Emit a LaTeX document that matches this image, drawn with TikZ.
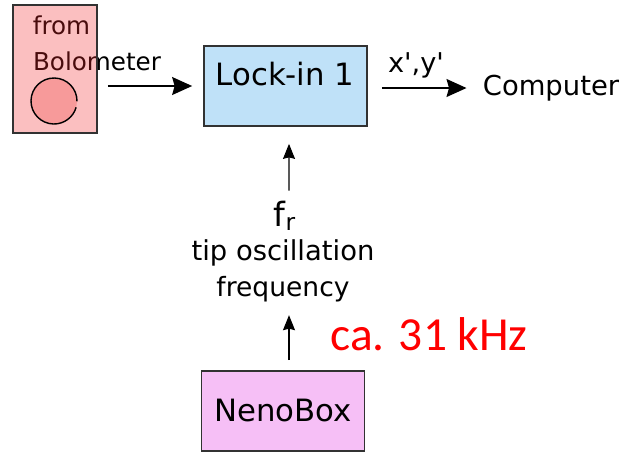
\documentclass[tikz,border=0pt]{standalone}
\usepackage{fontspec}
\setmainfont{DejaVu Sans}
\newfontfamily\carlitofont{Carlito}
\usetikzlibrary{arrows.meta,positioning}
\definecolor{nbpink}{RGB}{246,191,246}
\definecolor{nbblue}{RGB}{191,225,248}
\definecolor{nbbolo}{RGB}{242,42,45}
\definecolor{nbcircle}{RGB}{247,154,154}
\definecolor{nbedge}{RGB}{50,50,50}
\newcommand{\fsz}[1]{\fontsize{#1}{#1}\selectfont}

\begin{document}
\begin{tikzpicture}[
        instrument/.style={draw=nbedge, line width=1pt, minimum width=3.26cm, minimum height=1.6cm, align=center},
        flow/.style={-{Stealth[length=4mm,width=3.6mm,inset=0.5mm]}, line width=0.8pt},
        feed/.style={-{Stealth[length=3mm,width=2.4mm,inset=0.3mm]}, line width=0.6pt},
        caption/.style={inner sep=0pt, align=center}
      ]
      \useasboundingbox (0,0) rectangle (12.56,9.08);

      % text first, the box is laid over it
      \node[caption, font=\fsz{14}] (fromtxt) at (1.23,8.58) {from};
      \node[caption, font=\fsz{14}] (bolotxt) at (1.94,7.86) {Bolometer};
      \node[draw=nbedge, line width=1pt, fill=nbbolo, fill opacity=0.3, draw opacity=1,
        minimum width=1.68cm, minimum height=2.56cm] (bolo) at (1.10,7.70) {};
      \fill[nbcircle] (1.08,7.06) circle (0.46);
      \draw[line width=0.8pt] (1.08,7.06) ++(-1:0.46) arc (-1:344:0.46);

      \node[instrument, fill=nbblue] (lockin) at (5.71,7.36) {};
      \node[caption, font=\fsz{17.5}] (locktxt) at (5.70,7.60) {Lock-in 1};
      \node[instrument, fill=nbpink, font=\fsz{17.5}] (nenobox) at (5.66,0.86) {NenoBox};

      \node[caption, font=\fsz{15.6}] (computer) at (11.02,7.32) {Computer};
      \node[caption, font=\fsz{15.5}] (xy) at (8.32,7.77) {x\textquotesingle,y\textquotesingle};
      \node[caption, font=\fsz{19}] (fr) at (5.70,4.76) {f\textsubscript{r}};
      \node[caption, font=\fsz{15.6}] (tiptxt) at (5.66,4.02) {tip oscillation};
      \node[caption, font=\fsz{15.1}] (freqtxt) at (5.66,3.30) {frequency};
      \node[caption, font=\carlitofont\fsz{27}, text=red] (khz) at (8.58,2.40) {ca. 31 kHz};

      \draw[flow, shorten <=0.2cm, shorten >=0.22cm] (bolo.east |- lockin.west) -- (lockin.west);
      \draw[flow, shorten <=0.28cm, shorten >=0.32cm] (lockin.east |- computer.west) -- (computer.west);
      \draw[feed, shorten <=0.2cm, shorten >=0.26cm] ([xshift=0.12cm]nenobox.north) -- ([xshift=0.12cm]freqtxt.south);
      \draw[feed, shorten <=0.2cm, shorten >=0.34cm] ([xshift=0.08cm]fr.north) -- ([xshift=0.07cm]lockin.south);
    \end{tikzpicture}
\end{document}
